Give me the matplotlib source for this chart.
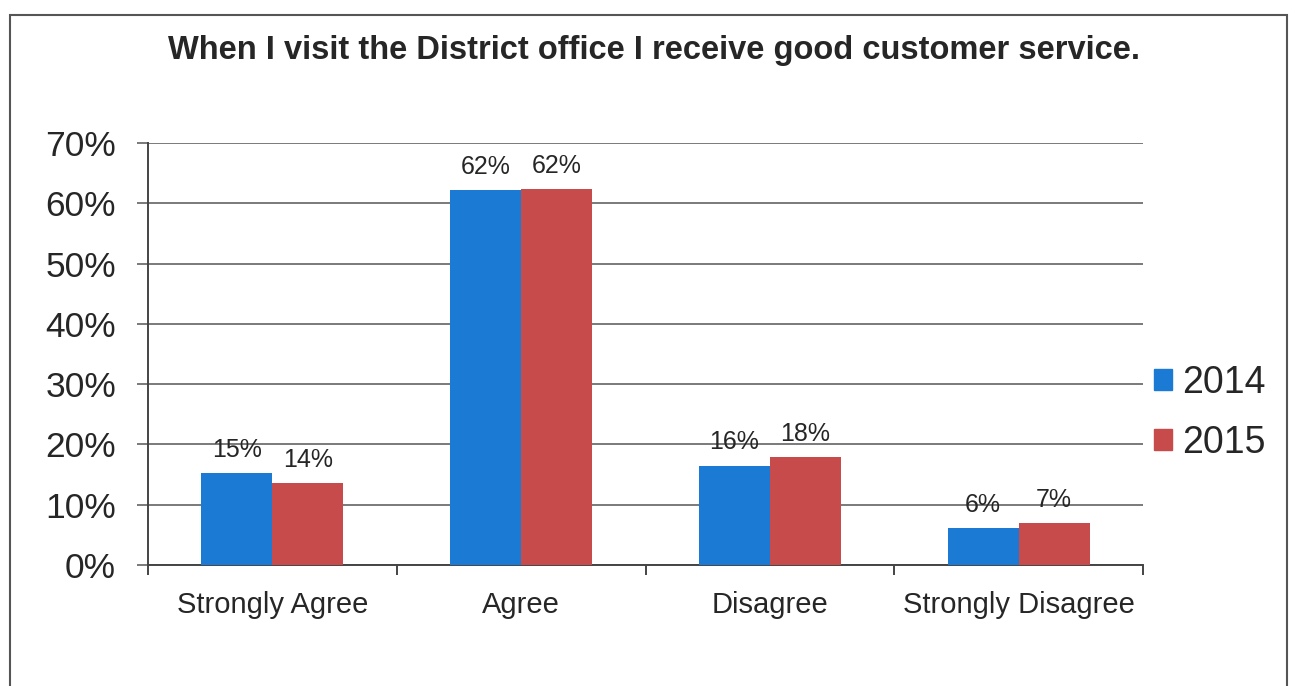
import numpy as np
import matplotlib.pyplot as plt
from matplotlib.patches import Patch, Rectangle
from matplotlib.ticker import FixedLocator

categories = ['Strongly Agree', 'Agree', 'Disagree', 'Strongly Disagree']
years = ['2014', '2015']
vals_2014 = [15.3, 62.2, 16.5, 6.2]
vals_2015 = [13.6, 62.3, 17.9, 7.0]
yticks = [0, 10, 20, 30, 40, 50, 60, 70]

blue = '#1a7ad4'
red = '#c84b4b'
text_col = '#262626'

plt.rcParams['font.family'] = ['Liberation Sans', 'DejaVu Sans']

fig = plt.figure(figsize=(12.98, 6.86), dpi=100)
# outer chart frame
fig.patches.append(Rectangle((10 / 1298, -0.05), 1277 / 1298, 1 - 15 / 686 + 0.05,
                             transform=fig.transFigure, fill=False,
                             edgecolor='#555555', linewidth=1.5, clip_on=False))

ax = fig.add_axes([148 / 1298, 1 - 565 / 686, 995 / 1298, 422 / 686])

x = np.arange(len(categories))
w = 0.285
b1 = ax.bar(x - w / 2, vals_2014, w, color=blue, zorder=3)
b2 = ax.bar(x + w / 2, vals_2015, w, color=red, zorder=3)

for bars in (b1, b2):
    for rect in bars:
        h = rect.get_height()
        ax.annotate(f'{h:.0f}%', (rect.get_x() + rect.get_width() / 2, h),
                    xytext=(0, 8), textcoords='offset points',
                    ha='center', va='bottom', fontsize=18, color=text_col)

ax.set_xlim(-0.5, len(categories) - 0.5)
ax.set_ylim(0, 70)
ax.set_yticks(yticks)
ax.set_yticklabels([f'{t}%' for t in yticks], fontsize=25.5, color=text_col)
ax.yaxis.grid(True, color='#7a7a7a', linewidth=1.4, zorder=0)
ax.tick_params(axis='y', length=8, width=1.4, color='#7a7a7a', pad=15)

ax.set_xticks(x)
ax.set_xticklabels(categories, fontsize=21, color=text_col)
ax.tick_params(axis='x', which='major', length=0, pad=19)
ax.xaxis.set_minor_locator(FixedLocator(np.arange(len(categories) + 1) - 0.5))
ax.tick_params(axis='x', which='minor', length=7, width=1.4, color='#444444')

for side in ('top', 'right'):
    ax.spines[side].set_visible(False)
ax.spines['left'].set_color('#444444')
ax.spines['left'].set_linewidth(1.4)
ax.spines['bottom'].set_color('#444444')
ax.spines['bottom'].set_linewidth(1.4)

handles = [Patch(color=blue), Patch(color=red)]
fig.legend(handles, years, loc='center left', bbox_to_anchor=(1120 / 1298, 1 - 413 / 686),
           frameon=False, fontsize=27, handlelength=0.48, handleheight=0.48,
           handletextpad=0.27, labelspacing=0.65, labelcolor=text_col)

fig.text(654 / 1298, 1 - 50 / 686,
         'When I visit the District office I receive good customer service.',
         ha='center', va='center', fontsize=23.5, fontweight='bold', color=text_col)

fig.savefig('out.png', dpi=100)
